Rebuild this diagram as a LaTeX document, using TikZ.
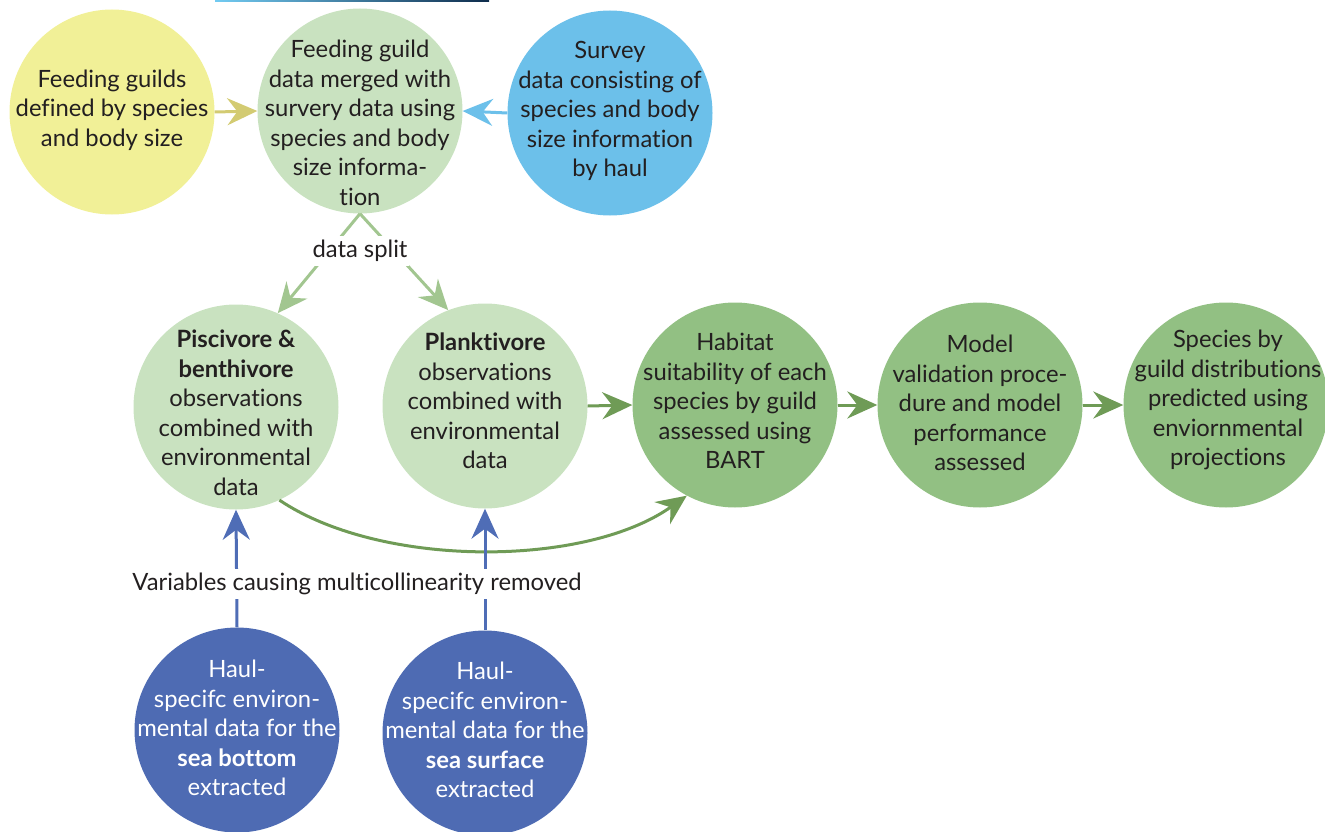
\documentclass[tikz,border=0pt]{standalone}
\usepackage{fontspec}
\setmainfont[Ligatures={NoCommon}]{Lato}
\usetikzlibrary{arrows.meta}
\definecolor{cyellow}{HTML}{F1F097}
\definecolor{clgreen}{HTML}{C9E2C0}
\definecolor{cblue}{HTML}{6CC0EA}
\definecolor{cmgreen}{HTML}{92C083}
\definecolor{cnavy}{HTML}{4E6BB3}
\definecolor{ayellow}{HTML}{D3CB72}
\definecolor{alg}{HTML}{A2C690}
\definecolor{adg}{HTML}{6F9B56}
\definecolor{ablue}{HTML}{4F6DB6}
\definecolor{ctext}{HTML}{231F20}
\definecolor{glight}{HTML}{72CBF2}
\definecolor{gdark}{HTML}{0E2C4C}
\begin{document}
\begin{tikzpicture}[x=1pt,y=-1pt,
  circ/.style={circle,minimum size=205pt,inner sep=0pt,draw=none},
  txt/.style={align=center,font=\fontsize{23.8}{29.5}\selectfont,text=ctext,inner sep=0pt},
  wtxt/.style={txt,text=white},
  arr/.style={line width=3pt,-{Stealth[length=30pt,width=27pt,inset=10pt]}},
  lbl/.style={fill=white,font=\fontsize{23.8}{29.5}\selectfont,text=ctext,inner xsep=2pt,inner ysep=4pt}]
\useasboundingbox (0,0) rectangle (1325,832);
\shade[left color=glight,right color=gdark] (215,0) rectangle (489,2);
% circles
\node[circ,fill=cyellow] (guild) at (112,112) {};
\node[circ,fill=clgreen] (merge) at (360,111) {};
\node[circ,fill=cblue] (survey) at (610,113) {};
\node[circ,fill=clgreen] (pisc) at (236,407) {};
\node[circ,fill=clgreen] (plank) at (485,406) {};
\node[circ,fill=cmgreen] (hab) at (735,405) {};
\node[circ,fill=cmgreen] (model) at (980,405) {};
\node[circ,fill=cmgreen] (pred) at (1226,405) {};
\node[circ,fill=cnavy] (bottom) at (237,730) {};
\node[circ,fill=cnavy] (surface) at (485,733) {};
% texts
\node[txt] (guild-t) at (112,110) {Feeding guilds\\defined by species\\and body size};
\node[txt] (merge-t) at (360,123) {Feeding guild\\data merged with\\survery data using\\species and body\\size informa-\\tion};
\node[txt] (survey-t) at (610,111) {Survey\\data consisting of\\species and body\\size information\\by haul};
\node[txt] (pisc-t) at (236,413) {\textbf{Piscivore \&}\\\textbf{benthivore}\\observations\\combined with\\environmental\\data};
\node[txt] (plank-t) at (485,401) {\textbf{Planktivore}\\observations\\combined with\\environmental\\data};
\node[txt] (hab-t) at (735,401) {Habitat\\suitability of each\\species by guild\\assessed using\\BART};
\node[txt] (model-t) at (980,403) {Model\\validation proce-\\dure and model\\performance\\assessed};
\node[txt] (pred-t) at (1228,400) {Species by\\guild distributions\\predicted using\\enviornmental\\projections};
\node[wtxt] (bottom-t) at (237,728) {Haul-\\specifc environ-\\mental data for the\\\textbf{sea bottom}\\extracted};
\node[wtxt] (surface-t) at (485,730) {Haul-\\specifc environ-\\mental data for the\\\textbf{sea surface}\\extracted};
% connectors
\draw[arr,ayellow] (guild.east) -- (merge.west);
\draw[arr,cblue] (survey.west) -- (merge.east);
\draw[arr,alg] (merge.south) -- (pisc.66);
\draw[arr,alg] (merge.south) -- (plank.111);
\draw[arr,adg] (plank.east) -- (hab.west);
\draw[arr,adg] (hab.east) -- (model.west);
\draw[arr,adg] (model.east) -- (pred.west);
\draw[arr,adg] (pisc.-65) .. controls (380,568) and (585,568) .. (hab.-118);
\draw[arr,ablue] (bottom.north) -- (pisc.south);
\draw[arr,ablue] (surface.north) -- (plank.south);
% labels
\node[lbl] (split) at (360,251) {data split};
\node[lbl] (multi) at (357,584) {Variables causing multicollinearity removed};
\end{tikzpicture}
\end{document}
